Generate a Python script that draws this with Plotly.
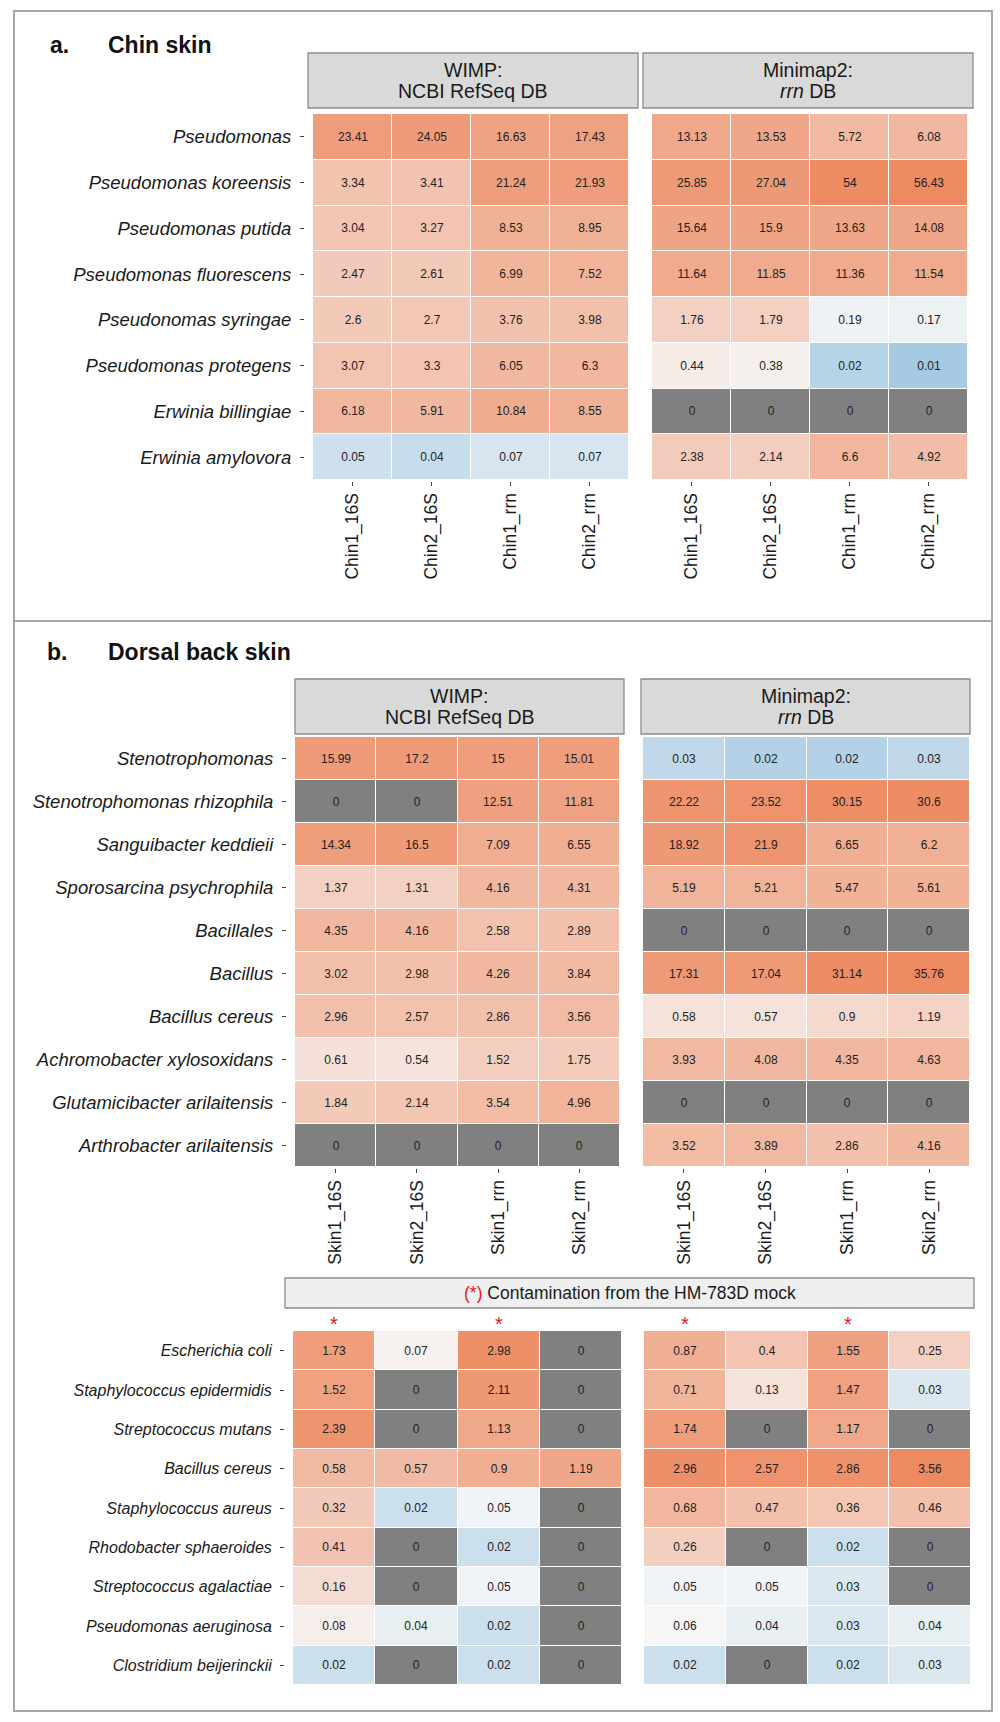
import numpy as np
import plotly.graph_objects as go

W, H = 1000, 1722

# ---------------- data ----------------
chin_cols = ["Chin1_16S", "Chin2_16S", "Chin1_rrn", "Chin2_rrn"]
chin_taxa = ["Pseudomonas", "Pseudomonas koreensis", "Pseudomonas putida",
             "Pseudomonas fluorescens", "Pseudonomas syringae", "Pseudomonas protegens",
             "Erwinia billingiae", "Erwinia amylovora"]
chin_wimp = [
    [23.41, 24.05, 16.63, 17.43],
    [3.34, 3.41, 21.24, 21.93],
    [3.04, 3.27, 8.53, 8.95],
    [2.47, 2.61, 6.99, 7.52],
    [2.6, 2.7, 3.76, 3.98],
    [3.07, 3.3, 6.05, 6.3],
    [6.18, 5.91, 10.84, 8.55],
    [0.05, 0.04, 0.07, 0.07],
]
chin_minimap = [
    [13.13, 13.53, 5.72, 6.08],
    [25.85, 27.04, 54, 56.43],
    [15.64, 15.9, 13.63, 14.08],
    [11.64, 11.85, 11.36, 11.54],
    [1.76, 1.79, 0.19, 0.17],
    [0.44, 0.38, 0.02, 0.01],
    [0, 0, 0, 0],
    [2.38, 2.14, 6.6, 4.92],
]

skin_cols = ["Skin1_16S", "Skin2_16S", "Skin1_rrn", "Skin2_rrn"]
skin_taxa = ["Stenotrophomonas", "Stenotrophomonas rhizophila", "Sanguibacter keddieii",
             "Sporosarcina psychrophila", "Bacillales", "Bacillus", "Bacillus cereus",
             "Achromobacter xylosoxidans", "Glutamicibacter arilaitensis",
             "Arthrobacter arilaitensis"]
skin_wimp = [
    [15.99, 17.2, 15, 15.01],
    [0, 0, 12.51, 11.81],
    [14.34, 16.5, 7.09, 6.55],
    [1.37, 1.31, 4.16, 4.31],
    [4.35, 4.16, 2.58, 2.89],
    [3.02, 2.98, 4.26, 3.84],
    [2.96, 2.57, 2.86, 3.56],
    [0.61, 0.54, 1.52, 1.75],
    [1.84, 2.14, 3.54, 4.96],
    [0, 0, 0, 0],
]
skin_minimap = [
    [0.03, 0.02, 0.02, 0.03],
    [22.22, 23.52, 30.15, 30.6],
    [18.92, 21.9, 6.65, 6.2],
    [5.19, 5.21, 5.47, 5.61],
    [0, 0, 0, 0],
    [17.31, 17.04, 31.14, 35.76],
    [0.58, 0.57, 0.9, 1.19],
    [3.93, 4.08, 4.35, 4.63],
    [0, 0, 0, 0],
    [3.52, 3.89, 2.86, 4.16],
]

contam_taxa = ["Escherichia coli", "Staphylococcus epidermidis", "Streptococcus mutans",
               "Bacillus cereus", "Staphylococcus aureus", "Rhodobacter sphaeroides",
               "Streptococcus agalactiae", "Pseudomonas aeruginosa", "Clostridium beijerinckii"]
contam_wimp = [
    [1.73, 0.07, 2.98, 0],
    [1.52, 0, 2.11, 0],
    [2.39, 0, 1.13, 0],
    [0.58, 0.57, 0.9, 1.19],
    [0.32, 0.02, 0.05, 0],
    [0.41, 0, 0.02, 0],
    [0.16, 0, 0.05, 0],
    [0.08, 0.04, 0.02, 0],
    [0.02, 0, 0.02, 0],
]
contam_minimap = [
    [0.87, 0.4, 1.55, 0.25],
    [0.71, 0.13, 1.47, 0.03],
    [1.74, 0, 1.17, 0],
    [2.96, 2.57, 2.86, 3.56],
    [0.68, 0.47, 0.36, 0.46],
    [0.26, 0, 0.02, 0],
    [0.05, 0.05, 0.03, 0],
    [0.06, 0.04, 0.03, 0.04],
    [0.02, 0, 0.02, 0.03],
]
asterisk_cols = ["Skin1_16S", "Skin1_rrn"]

# ---------------- styling ----------------
LOW, MID, HIGH = "#A6CAE3", "#F7F7F7", "#ED8A61"
GRAY = "#808080"
FONT = "Liberation Sans"


def px_x(l, r):
    return [l / W, r / W]


def px_y(t, b):
    return [1 - b / H, 1 - t / H]


def make_scale(lo, mid, hi):
    a, m, b = np.log10(lo), np.log10(mid), np.log10(hi)
    f = (m - a) / (b - a)
    return dict(colorscale=[[0, LOW], [f, MID], [1, HIGH]], cmin=a, cmax=b, showscale=False)


fig = go.Figure()


def add_heat(values, cols, taxa, idx, cax):
    v = np.array(values, dtype=float)
    z = [[float(np.log10(x)) if x > 0 else None for x in row] for row in v]
    txt = [[f"{x:g}" if x > 0 else "" for x in row] for row in values]
    zz = [[1.0 if x == 0 else None for x in row] for row in v]
    txt0 = [["0" if x == 0 else "" for x in row] for row in values]
    xa = "x" if idx == 1 else f"x{idx}"
    ya = "y" if idx == 1 else f"y{idx}"
    tf = dict(family=FONT, size=12, color="#222222")
    fig.add_trace(go.Heatmap(z=z, x=cols, y=taxa, text=txt, texttemplate="%{text}",
                             coloraxis=cax, xgap=1, ygap=1, xaxis=xa, yaxis=ya,
                             hoverinfo="skip", textfont=tf))
    fig.add_trace(go.Heatmap(z=zz, x=cols, y=taxa, text=txt0, texttemplate="%{text}",
                             colorscale=[[0, GRAY], [1, GRAY]], zmin=0, zmax=1,
                             showscale=False, xgap=1, ygap=1, xaxis=xa, yaxis=ya,
                             hoverinfo="skip", textfont=tf))


add_heat(chin_wimp, chin_cols, chin_taxa, 1, "coloraxis")
add_heat(chin_minimap, chin_cols, chin_taxa, 2, "coloraxis")
add_heat(skin_wimp, skin_cols, skin_taxa, 3, "coloraxis2")
add_heat(skin_minimap, skin_cols, skin_taxa, 4, "coloraxis2")
add_heat(contam_wimp, skin_cols, contam_taxa, 5, "coloraxis3")
add_heat(contam_minimap, skin_cols, contam_taxa, 6, "coloraxis3")

# geometry (px)
panels = {
    1: dict(x=(313, 629), y=(114, 480)),
    2: dict(x=(652, 968), y=(114, 480)),
    3: dict(x=(295, 620), y=(737, 1167)),
    4: dict(x=(643, 970), y=(737, 1167)),
    5: dict(x=(293, 622), y=(1331, 1685)),
    6: dict(x=(644, 971), y=(1331, 1685)),
}
ytick_pos = {1: 304, 3: 286, 5: 284}
xtick_pos = {1: 481, 2: 481, 3: 1168, 4: 1168}
taxa_of = {1: chin_taxa, 2: chin_taxa, 3: skin_taxa, 4: skin_taxa, 5: contam_taxa, 6: contam_taxa}
ylab_size = {1: 18.5, 3: 18.5, 5: 16}

layout = dict(
    width=W, height=H, margin=dict(l=0, r=0, t=0, b=0),
    paper_bgcolor="white", plot_bgcolor="white", showlegend=False,
    font=dict(family=FONT, color="#1a1a1a"),
    coloraxis=make_scale(0.01, 0.27, 56.43),
    coloraxis2=make_scale(0.012, 0.22, 35.76),
    coloraxis3=make_scale(0.008, 0.058, 3.56),
)

for i, p in panels.items():
    xk = "xaxis" if i == 1 else f"xaxis{i}"
    yk = "yaxis" if i == 1 else f"yaxis{i}"
    ya = "y" if i == 1 else f"y{i}"
    xa = "x" if i == 1 else f"x{i}"
    xax = dict(domain=px_x(*p["x"]), showgrid=False, zeroline=False, showline=False,
               type="category", fixedrange=True)
    if i in xtick_pos:
        xax.update(anchor="free", position=1 - xtick_pos[i] / H, side="bottom",
                   ticks="outside", ticklen=4, tickcolor="#444", tickangle=-90,
                   ticklabelstandoff=0,
                   tickfont=dict(family=FONT, size=17.5, color="#1a1a1a"))
    else:
        xax.update(anchor=ya, showticklabels=False, ticks="")
    yax = dict(domain=px_y(*p["y"]), showgrid=False, zeroline=False, showline=False,
               type="category", autorange="reversed", fixedrange=True)
    if i in ytick_pos:
        yax.update(anchor="free", position=ytick_pos[i] / W, side="left",
                   ticks="outside", ticklen=4, tickcolor="#444",
                   ticklabelstandoff=5,
                   tickmode="array", tickvals=taxa_of[i],
                   ticktext=[f"<i>{t}</i>" for t in taxa_of[i]],
                   tickfont=dict(family=FONT, size=ylab_size[i], color="#1a1a1a"))
    else:
        yax.update(anchor=xa, showticklabels=False, ticks="")
    layout[xk] = xax
    layout[yk] = yax

fig.update_layout(**layout)

# ---------------- frame / strips / titles ----------------
shapes = []
ann = []


def rect(l, t, r, b, fill, line, lw):
    shapes.append(dict(type="rect", xref="paper", yref="paper",
                       x0=l / W, x1=r / W, y0=1 - b / H, y1=1 - t / H,
                       fillcolor=fill, line=dict(color=line, width=lw), layer="below"))


def label(x, y, text, size, color="#1a1a1a", anchor="center"):
    ann.append(dict(xref="paper", yref="paper", x=x / W, y=1 - y / H,
                    text=text, showarrow=False, xanchor=anchor, yanchor="middle",
                    font=dict(family=FONT, size=size, color=color)))


# outer frame and divider
rect(14, 11, 992, 1711, "rgba(0,0,0,0)", "#A6A6A6", 2)
shapes.append(dict(type="line", xref="paper", yref="paper", x0=14 / W, x1=992 / W,
                   y0=1 - 621 / H, y1=1 - 621 / H, line=dict(color="#A6A6A6", width=2)))


def strip(l, t, r, b, lines, fill="#D9D9D9", size=19.5):
    rect(l, t, r, b, fill, "#8C8C8C", 1.3)
    c = (t + b) / 2
    if len(lines) == 1:
        label((l + r) / 2, c, lines[0], size)
    else:
        label((l + r) / 2, c - 10.5, lines[0], size)
        label((l + r) / 2, c + 10.5, lines[1], size)


strip(308, 53, 638, 108, ["WIMP:", "NCBI RefSeq DB"])
strip(643, 53, 973, 108, ["Minimap2:", "<i>rrn</i> DB"])
strip(295, 679, 624, 734, ["WIMP:", "NCBI RefSeq DB"])
strip(641, 679, 970, 734, ["Minimap2:", "<i>rrn</i> DB"])
strip(285, 1278, 974, 1308,
      ["<span style='color:#E8141B'>(*)</span> Contamination from the HM-783D mock"],
      fill="#EFEFEF", size=17.5)

label(48, 45, "<b>a.</b>", 23, "#111111", "left")
label(106, 45, "<b>Chin skin</b>", 23, "#111111", "left")
label(45, 652, "<b>b.</b>", 23, "#111111", "left")
label(106, 652, "<b>Dorsal back skin</b>", 23, "#111111", "left")

for xa in ["x5", "x6"]:
    for c in asterisk_cols:
        ann.append(dict(xref=xa, yref="paper", x=c, y=1 - 1324 / H, text="*",
                        showarrow=False, xanchor="center", yanchor="middle",
                        font=dict(family=FONT, size=20, color="#E8141B")))

fig.update_layout(shapes=shapes, annotations=ann)

fig.write_html("out.html", config={"displayModeBar": False},
               post_script="document.body.style.margin='0';")
